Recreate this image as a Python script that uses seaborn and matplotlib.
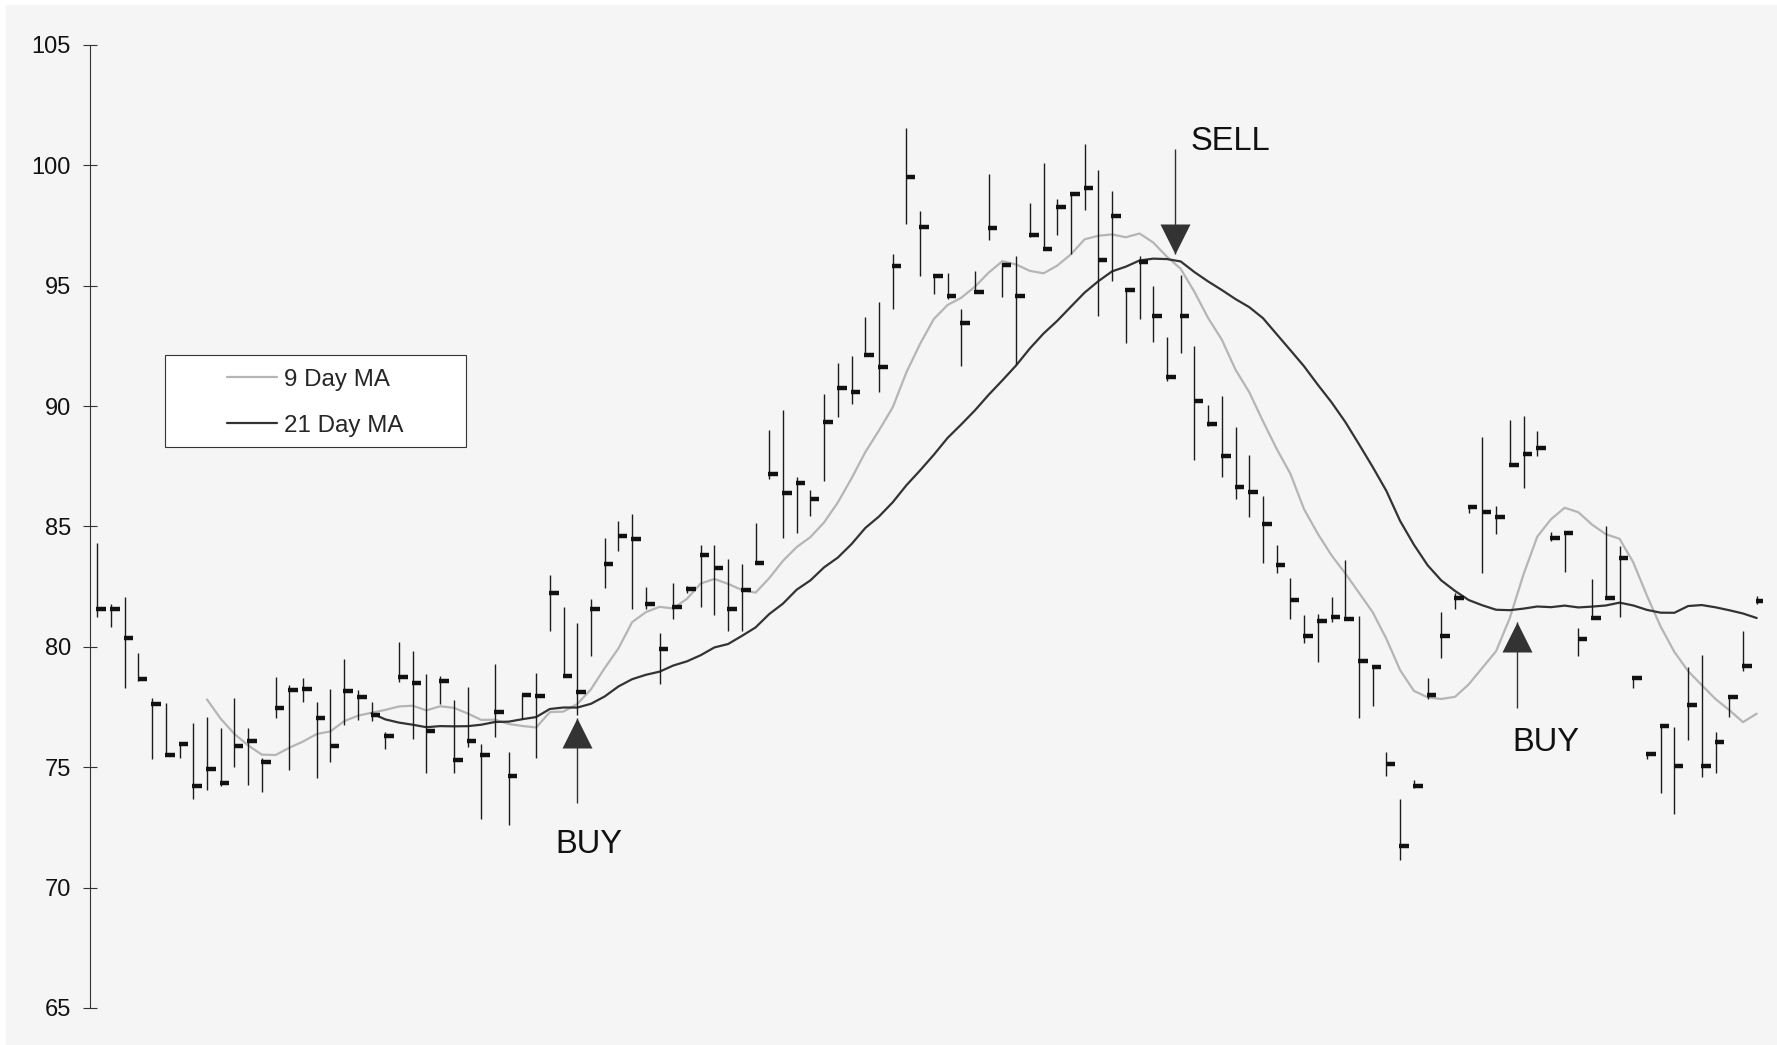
import numpy as np
import pandas as pd
import matplotlib
matplotlib.use("Agg")
import matplotlib.pyplot as plt
from matplotlib.patches import Rectangle
from matplotlib.lines import Line2D
import seaborn as sns

# daily bars: high, low, close
highs = [84.33, 81.80, 82.07, 79.74, 77.86, 77.68, 76.01, 76.82, 77.09, 76.65,
         77.86, 76.64, 75.39, 78.76, 78.41, 78.71, 77.71, 78.23, 79.48, 78.19,
         77.71, 76.46, 80.20, 79.81, 78.86, 78.79, 77.80, 78.32, 75.96, 79.27,
         75.65, 78.05, 78.90, 82.97, 81.66, 81.01, 81.98, 84.54, 85.23, 85.51,
         82.50, 80.56, 82.67, 82.53, 84.22, 84.25, 83.64, 83.46, 85.15, 89.01,
         89.84, 87.04, 86.51, 90.50, 91.78, 92.10, 93.71, 94.32, 96.30, 101.55,
         98.10, 95.50, 95.52, 94.04, 95.62, 99.66, 95.95, 96.23, 98.45, 100.11,
         98.62, 98.82, 100.90, 99.79, 98.92, 94.87, 96.22, 94.97, 92.86, 95.45,
         92.49, 90.05, 90.43, 89.14, 87.99, 86.27, 84.22, 82.88, 81.32, 81.38,
         82.07, 83.60, 81.30, 79.20, 75.63, 73.68, 74.49, 78.72, 81.45, 82.25,
         85.83, 88.70, 85.86, 89.44, 89.60, 88.95, 84.79, 84.75, 80.80, 82.81,
         85.03, 84.17, 78.72, 75.53, 76.73, 76.68, 79.17, 79.65, 76.46, 77.91,
         80.66, 82.11]
lows = [81.26, 80.84, 78.29, 78.58, 75.36, 75.46, 75.39, 73.68, 74.05, 74.24,
        75.02, 74.27, 73.96, 77.03, 74.90, 77.73, 74.54, 75.20, 76.75, 76.98,
        76.92, 75.74, 78.54, 76.18, 74.77, 77.61, 74.77, 75.85, 72.85, 76.26,
        72.59, 77.01, 75.38, 80.66, 78.79, 77.17, 79.62, 82.46, 83.99, 81.56,
        81.59, 78.44, 81.17, 82.25, 81.64, 81.33, 80.66, 80.66, 83.45, 86.97,
        84.54, 84.75, 85.44, 86.90, 89.53, 90.07, 92.10, 90.57, 94.04, 97.58,
        95.40, 94.66, 94.43, 91.68, 94.73, 96.88, 94.55, 91.75, 97.02, 96.51,
        97.09, 96.33, 98.13, 93.74, 95.19, 92.61, 93.62, 92.68, 91.06, 92.21,
        87.76, 89.19, 87.04, 86.14, 85.41, 83.50, 83.08, 81.17, 80.17, 79.37,
        81.03, 81.14, 77.04, 77.54, 74.63, 71.16, 74.14, 77.82, 79.55, 81.56,
        85.55, 83.06, 84.68, 87.55, 86.58, 87.94, 84.38, 83.13, 79.62, 81.14,
        81.97, 81.25, 78.30, 75.35, 73.91, 73.06, 76.12, 74.60, 74.77, 77.08,
        78.99, 81.77]
closes = [81.57, 81.57, 80.35, 78.68, 77.62, 75.50, 75.95, 74.21, 74.91, 74.35,
          75.88, 76.08, 75.22, 77.47, 78.21, 78.27, 77.03, 75.90, 78.16, 77.93,
          77.19, 76.28, 78.75, 78.50, 76.51, 78.58, 75.31, 76.08, 75.49, 77.29,
          74.65, 78.02, 77.94, 82.25, 78.79, 78.14, 81.57, 83.43, 84.61, 84.49,
          81.77, 79.92, 81.64, 82.42, 83.83, 83.29, 81.57, 82.36, 83.47, 87.20,
          86.39, 86.79, 86.14, 89.33, 90.74, 90.59, 92.13, 91.61, 95.81, 99.50,
          97.46, 95.40, 94.56, 93.46, 94.73, 97.39, 95.88, 94.57, 97.12, 96.54,
          98.27, 98.82, 99.06, 96.05, 97.88, 94.82, 95.98, 93.73, 91.23, 93.76,
          90.23, 89.27, 87.92, 86.65, 86.43, 85.12, 83.40, 81.93, 80.47, 81.06,
          81.24, 81.17, 79.40, 79.18, 75.14, 71.71, 74.21, 78.02, 80.45, 82.04,
          85.83, 85.61, 85.40, 87.55, 88.01, 88.28, 84.54, 84.75, 80.34, 81.20,
          82.04, 83.71, 78.72, 75.53, 76.73, 75.07, 77.59, 75.07, 76.04, 77.91,
          79.20, 81.89]

ma_windows = [9, 21]
ma_labels = ["9 Day MA", "21 Day MA"]
ma_colors = ["#b5b5b5", "#333333"]

y_ticks = [65, 70, 75, 80, 85, 90, 95, 100, 105]

# trade signals: arrow x (bar), tip price, tail price, label position
signal_kind = ["buy", "sell", "buy"]
signal_text = ["BUY", "SELL", "BUY"]
signal_x = [35.0, 78.6, 103.5]
signal_tip = [77.04, 96.33, 81.03]
signal_tail = [73.52, 100.69, 77.47]
signal_label_x = [35.85, 82.65, 105.64]
signal_label_y = [71.81, 101.0, 76.01]

df = pd.DataFrame({"high": highs, "low": lows, "close": closes})
df["bar"] = np.arange(len(df))
for w in ma_windows:
    df[f"ma{w}"] = df["close"].rolling(w).mean()

sns.set_style("white")
plt.rcParams["font.family"] = ["Liberation Sans", "DejaVu Sans"]

W, H = 1777, 1045
fig = plt.figure(figsize=(W / 100, H / 100), dpi=100)
fig.patch.set_facecolor("white")
fig.add_artist(Rectangle((6 / W, 0), 1, 1 - 5 / H, transform=fig.transFigure,
                         facecolor="#f5f5f5", edgecolor="none", zorder=-10))
ax = fig.add_axes([90 / W, 37 / H, 1673 / W, 963 / H])
ax.set_facecolor("none")

# moving averages
for w, lab, col in zip(ma_windows, ma_labels, ma_colors):
    sns.lineplot(data=df, x="bar", y=f"ma{w}", ax=ax, color=col, lw=1.6,
                 zorder=2, legend=False)

# high-low bars with close ticks
bar_col = "#1c1c1c"
ax.vlines(df["bar"], df["low"], df["high"], color=bar_col, lw=1.0, zorder=3)
ax.hlines(df["close"], df["bar"] - 0.06, df["bar"] + 0.64, color="#111111",
          lw=3.2, zorder=4)

# signals
arrow_col = "#333333"
for kind, txt, x, tip, tail, lx, ly in zip(signal_kind, signal_text, signal_x,
                                            signal_tip, signal_tail,
                                            signal_label_x, signal_label_y):
    ax.vlines(x, min(tip, tail), max(tip, tail), color=arrow_col, lw=1.0, zorder=5)
    if kind == "buy":
        ax.plot([x], [tip - 0.62], marker="^", ms=21.5, color=arrow_col,
                mec="none", zorder=6)
    else:
        ax.plot([x], [tip + 0.62], marker="v", ms=21.5, color=arrow_col,
                mec="none", zorder=6)
    ax.text(lx, ly, txt, ha="center", va="center", fontsize=23.5, color="#111111")

ax.set_xlim(-0.53, 121.46)
ax.set_ylim(65, 105)
ax.set_yticks(y_ticks)
ax.set_xticks([])
ax.set_xlabel("")
ax.set_ylabel("")
for s in ["top", "right", "bottom"]:
    ax.spines[s].set_visible(False)
ax.spines["left"].set_color("#333333")
ax.spines["left"].set_linewidth(0.8)
ax.tick_params(axis="y", left=True, direction="inout", length=10.5, width=0.8,
               color="#333333", pad=8.5, labelsize=17, labelcolor="#111111")

# legend with a wide box
ax.add_patch(Rectangle((0.0446, 0.5829), 0.180, 0.0955, transform=ax.transAxes,
                       facecolor="white", edgecolor="#333333", lw=0.8, zorder=7))
handles = [Line2D([], [], color=c, lw=1.6) for c in ma_colors]
leg = ax.legend(handles, ma_labels, loc="center", bbox_to_anchor=(0.1346, 0.6285),
                frameon=False, fontsize=17.4, handlelength=2.07, handletextpad=0.27,
                labelspacing=1.0, borderpad=0)
leg.set_zorder(8)

fig.savefig("out.png", dpi=100)
